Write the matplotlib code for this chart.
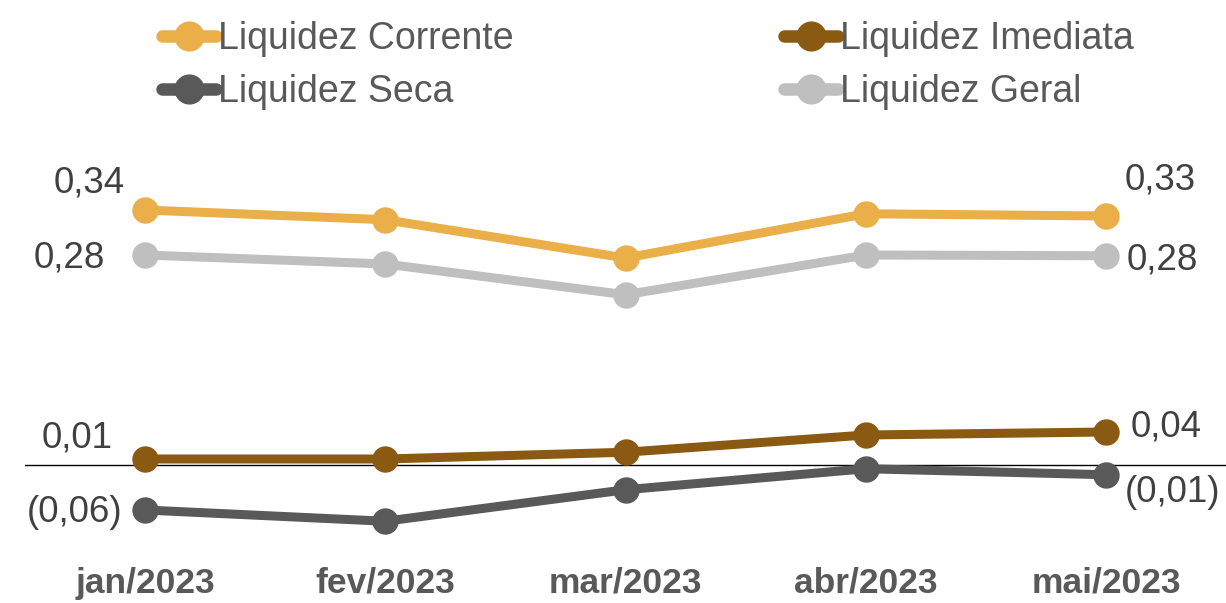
import matplotlib
matplotlib.use("Agg")
import matplotlib.pyplot as plt

plt.rcParams["font.family"] = ["Liberation Sans", "DejaVu Sans"]

# ── Data ────────────────────────────────────────────────────────────────────
months = ["jan/2023", "fev/2023", "mar/2023", "abr/2023", "mai/2023"]
corrente = [0.34, 0.327, 0.276, 0.335, 0.332]
imediata = [0.008, 0.008, 0.017, 0.040, 0.044]
seca = [-0.060, -0.075, -0.033, -0.005, -0.013]
geral = [0.280, 0.268, 0.227, 0.280, 0.279]

series = [
    ("Liquidez Corrente", corrente, "#EAAF48"),
    ("Liquidez Seca", seca, "#595959"),
    ("Liquidez Imediata", imediata, "#8B5A12"),
    ("Liquidez Geral", geral, "#BFBFBF"),
]

# label offsets in pixels (first point, last point)
offsets = {
    "Liquidez Corrente": ((-20, 27), (19, 36)),
    "Liquidez Geral": ((-40, -3), (21, -4)),
    "Liquidez Imediata": ((-32, 21), (25, 5)),
    "Liquidez Seca": ((-23, -3), (19, -18)),
}


def fmt(v):
    s = "%.2f" % abs(v)
    s = s.replace(".", ",")
    return "(%s)" % s if v < 0 else s


W, H = 1226, 603
fig = plt.figure(figsize=(W / 100, H / 100), dpi=100)
ax = fig.add_axes([25 / W, (H - 560) / H, 1201 / W, 430 / H])

x = list(range(len(months)))
for name, vals, color in series:
    ax.plot(x, vals, color=color, lw=6.5, marker="o", ms=18,
            solid_capstyle="round", label=name, zorder=3)
    for idx, off in zip((0, len(vals) - 1), offsets[name]):
        ax.annotate(fmt(vals[idx]), (x[idx], vals[idx]), xytext=off,
                    textcoords="offset pixels",
                    ha="right" if idx == 0 else "left", va="center",
                    fontsize=26.5, color="#404040")

ax.axhline(0, color="black", lw=1, zorder=2)
ax.set_xlim(-0.5, 4.5)
ax.set_ylim(-(560 - 465) / 750, (465 - 130) / 750)
ax.set_xticks(x)
ax.set_xticklabels(months, fontsize=25.5, fontweight="bold", color="#595959")
ax.tick_params(axis="x", length=0, pad=5)
ax.set_yticks([])
for sp in ax.spines.values():
    sp.set_visible(False)

handles, labels = ax.get_legend_handles_labels()
leg = fig.legend(handles, labels, ncol=2, loc="upper left",
                 bbox_to_anchor=(143 / W, (H - 2) / H), frameon=False,
                 fontsize=27, borderpad=0, handlelength=1.45,
                 handletextpad=0.05, columnspacing=7.2, labelspacing=0.45,
                 numpoints=1, markerscale=1.15, labelcolor="#595959")
for ln in leg.get_lines():
    ln.set_linewidth(9)

fig.savefig("out.png", dpi=100)
